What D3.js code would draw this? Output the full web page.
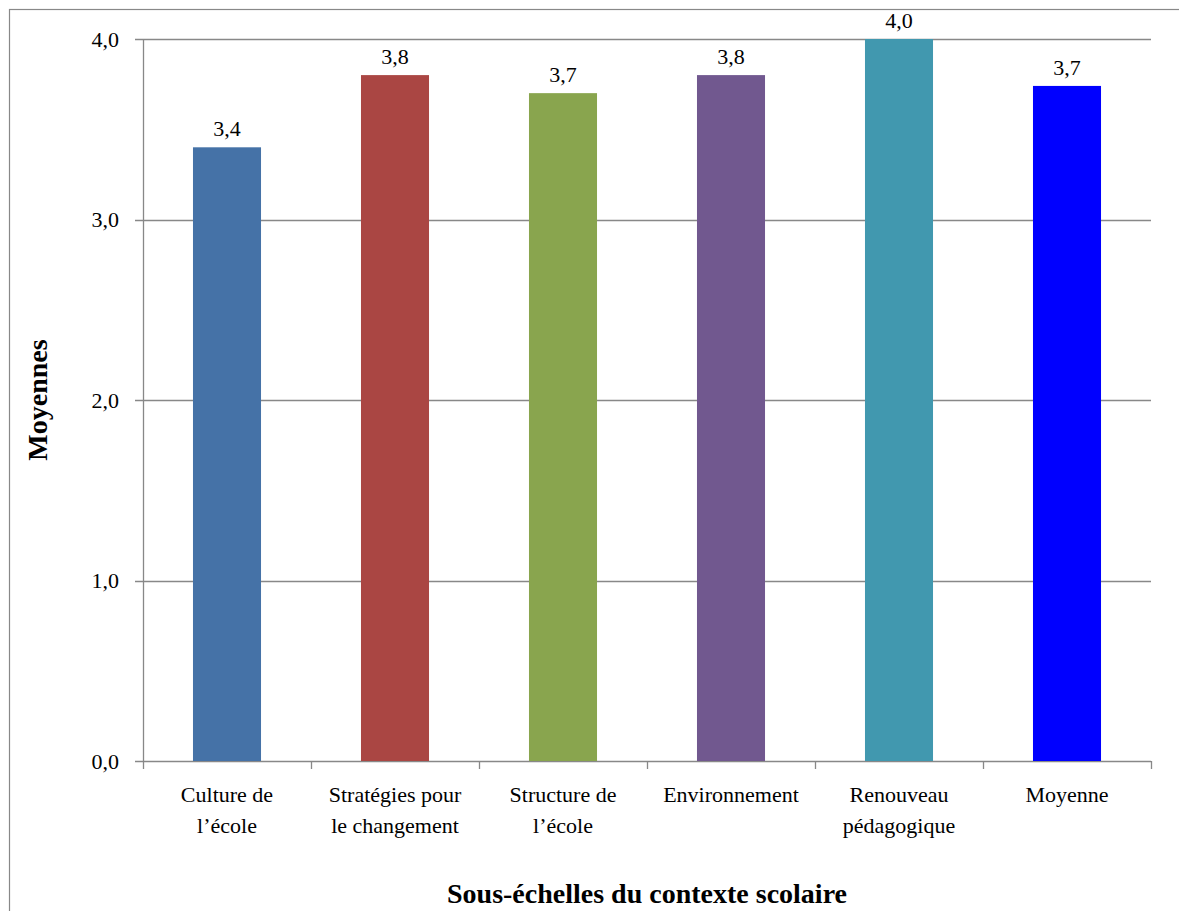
<!DOCTYPE html>
<html><head><meta charset="utf-8">
<script src="https://cdn.jsdelivr.net/npm/d3@7"></script>
</head><body style="margin:0">
<script>
const categories = [["Culture de","l\u2019école"],["Stratégies pour","le changement"],["Structure de","l\u2019école"],["Environnement"],["Renouveau","pédagogique"],["Moyenne"]];
const values = [3.4, 3.8, 3.7, 3.8, 4.0, 3.74];
const colors = ["#4572A7","#AA4643","#89A54E","#71588F","#4198AF","#0000FF"];
const yTicks = [0,1,2,3,4];
const yTitle = "Moyennes";
const xTitle = "Sous-échelles du contexte scolaire";

const FF="Times New Roman";
const W=1179,H=911;
const svg=d3.select("body").append("svg").attr("width",W).attr("height",H).style("display","block");
svg.append("rect").attr("x",9.5).attr("y",9.5).attr("width",1200).attr("height",1000).attr("fill","#fff").attr("stroke","#888").attr("stroke-width",1.2);
const L=143,R=1151,T=39,B=761;
const x=d3.scaleBand().domain(d3.range(categories.length)).range([L,R]).paddingInner(0.595).paddingOuter(0.2975);
const xb=d3.scaleBand().domain(d3.range(categories.length)).range([L,R]);
const y=d3.scaleLinear().domain([0,4]).range([B,T]);
const fmt=v=>d3.format(".1f")(v).replace(".",",");
svg.append("g").selectAll("line").data(yTicks).join("line")
 .attr("x1",L-8).attr("x2",R).attr("y1",d=>Math.round(y(d))+0.5).attr("y2",d=>Math.round(y(d))+0.5)
 .attr("stroke","#888").attr("stroke-width",1.3);
svg.append("g").selectAll("rect").data(values).join("rect")
 .attr("x",(d,i)=>x(i)).attr("width",x.bandwidth()).attr("y",d=>y(d)).attr("height",d=>B-y(d)).attr("fill",(d,i)=>colors[i]);
svg.append("line").attr("x1",L+0.5).attr("x2",L+0.5).attr("y1",T).attr("y2",B+1).attr("stroke","#888").attr("stroke-width",1.3);
svg.append("g").selectAll("line").data(d3.range(categories.length+1)).join("line")
 .attr("x1",i=>L+i*xb.step()+0.5).attr("x2",i=>L+i*xb.step()+0.5).attr("y1",B).attr("y2",B+8).attr("stroke","#888").attr("stroke-width",1.3);
svg.append("g").selectAll("text").data(yTicks).join("text").attr("font-family",FF)
 .attr("x",L-24).attr("y",d=>y(d)).attr("dy","0.35em").attr("text-anchor","end").attr("font-size",22).text(fmt);
svg.append("g").selectAll("text").data(values).join("text").attr("font-family",FF)
 .attr("x",(d,i)=>x(i)+x.bandwidth()/2).attr("y",d=>y(d)-11).attr("text-anchor","middle").attr("font-size",22).text(fmt);
const cl=svg.append("g").selectAll("text").data(categories).join("text").attr("font-family",FF)
 .attr("x",(d,i)=>xb(i)+xb.bandwidth()/2).attr("y",B+41).attr("text-anchor","middle").attr("font-size",22);
cl.selectAll("tspan").data(d=>d).join("tspan").attr("x",function(){return this.parentNode.getAttribute("x")}).attr("dy",(d,i)=>i?31:0).text(d=>d);
svg.append("text").attr("font-family",FF).attr("x",647).attr("y",903).attr("text-anchor","middle").attr("font-size",28).attr("font-weight","bold").text(xTitle);
svg.append("text").attr("font-family",FF).attr("transform","translate(47,400) rotate(-90)").attr("text-anchor","middle").attr("font-size",28).attr("font-weight","bold").text(yTitle);
</script>
</body></html>
